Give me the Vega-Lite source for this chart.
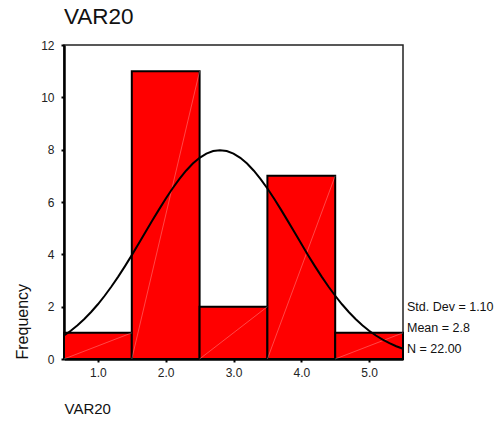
{
  "$schema": "https://vega.github.io/schema/vega-lite/v6.json",
  "autosize": "none",
  "width": 339,
  "height": 314,
  "padding": {"left": 64, "top": 45, "right": 93, "bottom": 64},
  "background": "white",
  "config": {
    "font": "Liberation Sans",
    "view": {"stroke": "#222", "strokeWidth": 1.5},
    "axis": {
      "grid": false,
      "domainColor": "black",
      "domainWidth": 2.5,
      "tickColor": "black",
      "tickWidth": 2,
      "tickSize": 3,
      "labelColor": "#222",
      "labelFont": "Liberation Sans",
      "labelFontSize": 12,
      "titleColor": "#111",
      "titleFont": "Liberation Sans",
      "titleFontWeight": "normal"
    }
  },
  "title": {
    "text": "VAR20",
    "anchor": "start",
    "frame": "group",
    "fontSize": 22.5,
    "fontWeight": "normal",
    "color": "#111",
    "offset": 11
  },
  "datasets": {
    "bins": [
      {"value": 1, "start": 0.5, "end": 1.5, "count": 1},
      {"value": 2, "start": 1.5, "end": 2.5, "count": 11},
      {"value": 3, "start": 2.5, "end": 3.5, "count": 2},
      {"value": 4, "start": 3.5, "end": 4.5, "count": 7},
      {"value": 5, "start": 4.5, "end": 5.5, "count": 1}
    ],
    "normal": [
      {"x": 0.5, "f": 0.897}, {"x": 0.6, "f": 1.080}, {"x": 0.7, "f": 1.290},
      {"x": 0.8, "f": 1.528}, {"x": 0.9, "f": 1.795}, {"x": 1.0, "f": 2.092},
      {"x": 1.1, "f": 2.417}, {"x": 1.2, "f": 2.770}, {"x": 1.3, "f": 3.149},
      {"x": 1.4, "f": 3.550}, {"x": 1.5, "f": 3.969}, {"x": 1.6, "f": 4.401},
      {"x": 1.7, "f": 4.840}, {"x": 1.8, "f": 5.279}, {"x": 1.9, "f": 5.709},
      {"x": 2.0, "f": 6.125}, {"x": 2.1, "f": 6.516}, {"x": 2.2, "f": 6.876},
      {"x": 2.3, "f": 7.196}, {"x": 2.4, "f": 7.469}, {"x": 2.5, "f": 7.688},
      {"x": 2.6, "f": 7.848}, {"x": 2.7, "f": 7.946}, {"x": 2.8, "f": 7.979},
      {"x": 2.9, "f": 7.946}, {"x": 3.0, "f": 7.848}, {"x": 3.1, "f": 7.688},
      {"x": 3.2, "f": 7.469}, {"x": 3.3, "f": 7.196}, {"x": 3.4, "f": 6.876},
      {"x": 3.5, "f": 6.516}, {"x": 3.6, "f": 6.125}, {"x": 3.7, "f": 5.709},
      {"x": 3.8, "f": 5.279}, {"x": 3.9, "f": 4.840}, {"x": 4.0, "f": 4.401},
      {"x": 4.1, "f": 3.969}, {"x": 4.2, "f": 3.550}, {"x": 4.3, "f": 3.149},
      {"x": 4.4, "f": 2.770}, {"x": 4.5, "f": 2.417}, {"x": 4.6, "f": 2.092},
      {"x": 4.7, "f": 1.795}, {"x": 4.8, "f": 1.528}, {"x": 4.9, "f": 1.290},
      {"x": 5.0, "f": 1.080}, {"x": 5.1, "f": 0.897}, {"x": 5.2, "f": 0.739},
      {"x": 5.3, "f": 0.603}, {"x": 5.4, "f": 0.489}, {"x": 5.5, "f": 0.392}
    ],
    "stats": [
      {"label": "Std. Dev = 1.10", "pos": 1.99},
      {"label": "Mean = 2.8", "pos": 1.18},
      {"label": "N = 22.00", "pos": 0.38}
    ]
  },
  "layer": [
    {
      "data": {"name": "bins"},
      "mark": {"type": "rect", "color": "#ff0000", "stroke": "black", "strokeWidth": 2},
      "encoding": {
        "x": {
          "field": "start",
          "type": "quantitative",
          "scale": {"domain": [0.5, 5.5], "nice": false, "zero": false},
          "axis": {
            "values": [1, 2, 3, 4, 5],
            "format": ".1f",
            "title": "VAR20",
            "titleFontSize": 15,
            "titleAnchor": "start",
            "titleAlign": "left",
            "titlePadding": 23,
            "labelPadding": 5
          }
        },
        "x2": {"field": "end"},
        "y": {
          "field": "count",
          "type": "quantitative",
          "scale": {"domain": [0, 12], "nice": false},
          "axis": {
            "values": [0, 2, 4, 6, 8, 10, 12],
            "title": "Frequency",
            "titleFontSize": 16,
            "titleAnchor": "start",
            "titleAlign": "left",
            "titlePadding": 10,
            "labelPadding": 7
          }
        },
        "y2": {"datum": 0}
      }
    },
    {
      "data": {"name": "bins"},
      "mark": {"type": "rule", "color": "white", "strokeWidth": 0.7, "opacity": 0.4},
      "encoding": {
        "x": {"field": "end", "type": "quantitative"},
        "x2": {"field": "start"},
        "y": {"field": "count", "type": "quantitative"},
        "y2": {"datum": 0}
      }
    },
    {
      "data": {"name": "normal"},
      "mark": {"type": "line", "color": "black", "strokeWidth": 2, "interpolate": "linear"},
      "encoding": {
        "x": {"field": "x", "type": "quantitative"},
        "y": {"field": "f", "type": "quantitative"}
      }
    },
    {
      "data": {"name": "stats"},
      "mark": {"type": "text", "align": "left", "baseline": "middle", "dx": 4, "fontSize": 12.5, "color": "#111"},
      "encoding": {
        "x": {"datum": 5.5, "type": "quantitative"},
        "y": {"field": "pos", "type": "quantitative"},
        "text": {"field": "label"}
      }
    }
  ]
}
